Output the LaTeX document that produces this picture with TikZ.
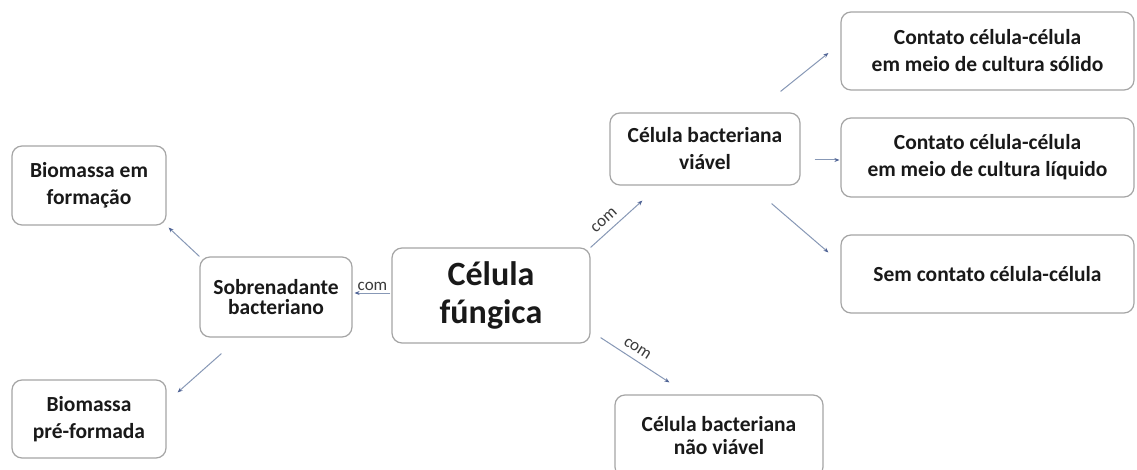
\documentclass[tikz,border=0pt]{standalone}
\usepackage{fontspec}
\setmainfont{Carlito}
\usetikzlibrary{arrows.meta}
\definecolor{boxline}{RGB}{165,165,165}
\definecolor{conn}{RGB}{135,152,182}
\definecolor{tipc}{RGB}{80,100,150}
\definecolor{txt}{RGB}{25,25,25}
\tikzset{
  box/.style={draw=boxline, line width=1.2pt, rounded corners=10pt, fill=white,
    align=center, text=txt, inner sep=0pt,
    font=\fontsize{21.5}{27}\selectfont\bfseries},
  conline/.style={draw=conn, line width=1pt, -{Stealth[length=5pt,width=4pt,color=tipc]}},
  lbl/.style={font=\fontsize{17}{18}\selectfont, text=txt!85, inner sep=1pt}
}
\begin{document}
\begin{tikzpicture}[x=1pt,y=-1pt]
\useasboundingbox (0,0) rectangle (1137,470);
\fill[white] (0,0) rectangle (1137,470);
\begin{scope}
\clip (0,0) rectangle (1137,470);
\node[box, minimum width=198pt, minimum height=95pt,
  font=\fontsize{34}{38}\selectfont\bfseries] (fung) at (491,295.5) {Célula\\fúngica};
\node[box, minimum width=152pt, minimum height=80pt,
  font=\fontsize{21.5}{20}\selectfont\bfseries] (sobre) at (276,297) {Sobrenadante\\bacteriano};
\node[box, minimum width=154pt, minimum height=79pt] (bform) at (89,185.5) {Biomassa em\\formação};
\node[box, minimum width=154pt, minimum height=78pt] (bpre) at (89,419) {Biomassa\\pré-formada};
\node[box, minimum width=190pt, minimum height=72pt] (viavel) at (705,149) {Célula bacteriana\\viável};
\node[box, minimum width=293pt, minimum height=78pt] (solido) at (987.5,51) {Contato célula-célula\\em meio de cultura sólido};
\node[box, minimum width=293pt, minimum height=79pt] (liquido) at (987.5,157.5) {Contato célula-célula\\em meio de cultura líquido};
\node[box, minimum width=293pt, minimum height=78pt] (sem) at (987.5,274) {Sem contato célula-célula};
\node[box, minimum width=208pt, minimum height=82pt,
  font=\fontsize{21.5}{23}\selectfont\bfseries] (nao) at (719,436) {Célula bacteriana\\não viável};
\end{scope}

\draw[conline] ([shift={(-1,-2.5)}]fung.west) -- node[lbl, above=1pt] {com} ([shift={(2,-4)}]sobre.east);
\draw[conline] ([shift={(0,0)}]fung.north east) -- node[lbl, pos=0.4, sloped, above=5pt] {com} ([shift={(33,15)}]viavel.south west);
\draw[conline] ([shift={(10,-6)}]fung.south east) -- node[lbl, pos=0.45, sloped, above=5pt] {com} ([shift={(55,-12)}]nao.north west);
\draw[conline] ([shift={(-20,-21)}]viavel.north east) -- ([shift={(-12,2)}]solido.west);
\draw[conline] ([shift={(14,11)}]viavel.east) -- ([shift={(-1,2.5)}]liquido.west);
\draw[conline] ([shift={(-29,18)}]viavel.south east) -- ([shift={(-12,18)}]sem.north west);
\draw[conline] ([shift={(0,0)}]sobre.north west) -- ([shift={(2,2)}]bform.south east);
\draw[conline] ([shift={(22,16)}]sobre.south west) -- ([shift={(11,13)}]bpre.north east);
\end{tikzpicture}
\end{document}
